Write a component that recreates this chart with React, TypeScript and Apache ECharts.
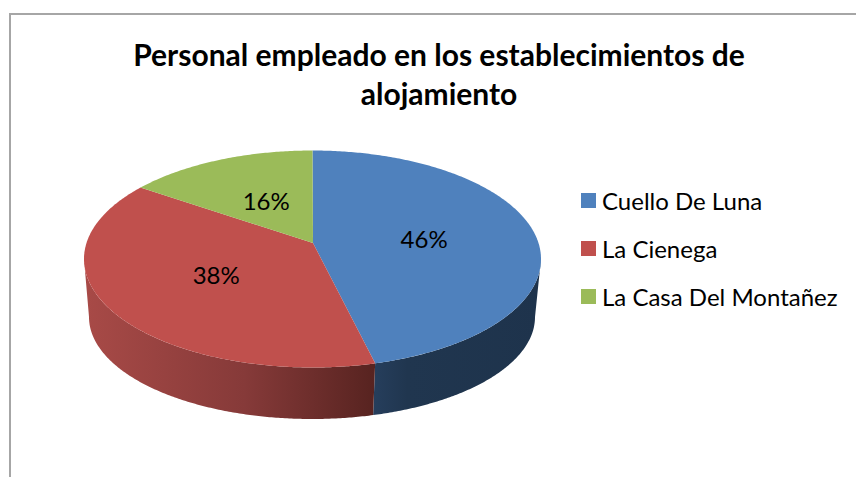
import React, { useEffect, useRef } from "react";
import * as echarts from "echarts";

const categories = ["Cuello De Luna", "La Cienega", "La Casa Del Montañez"];
const percentValues = [46, 38, 16];
const topColors = ["#4f81bd", "#c0504d", "#9bbb59"];
const titleText = "Personal empleado en los establecimientos de\nalojamiento";

const FONT = "Lato";
const TOP = { cx: 312.5, cy: 259, rx: 228.5, ry: 108.5 };
const BOTTOM = { cx: 312, cy: 317, rx: 223, ry: 102 };
const APEX = { x: 313, y: 243 };
const PERSP_A = 0.831;
const PERSP_B = -0.0102;
const labelFraction = [0.51, 0.47, 0.5];
const labelShiftY = [4, 2, -1];

// Perspective warp of a pie angle (radians, clockwise from twelve o'clock).
const warp = (t: number) => {
  const h = t / 2;
  return 2 * Math.atan2(PERSP_A * Math.sin(h), Math.cos(h) + PERSP_B * Math.sin(h));
};
const onEllipse = (e: typeof TOP, a: number) => [e.cx + e.rx * Math.sin(a), e.cy - e.ry * Math.cos(a)];
const arcPoints = (e: typeof TOP, a0: number, a1: number) => {
  const n = Math.max(2, Math.ceil(Math.abs(a1 - a0) / 0.01));
  const pts: number[][] = [];
  for (let i = 0; i <= n; i++) pts.push(onEllipse(e, a0 + ((a1 - a0) * i) / n));
  return pts;
};

const sideFill: Record<number, any> = {
  0: { x0: 374, x1: 541, stops: [[0, "#263e5c"], [0.2, "#20364f"], [1, "#1e334c"]] },
  1: { x0: 85, x1: 375, stops: [[0, "#a84a47"], [0.55, "#863a39"], [1, "#572320"]] },
};

function App() {
  const ref = useRef<HTMLDivElement>(null);
  useEffect(() => {
    document.body.style.margin = "0";
    const chart = echarts.init(ref.current!, undefined, { renderer: "svg" });
    const total = percentValues.reduce((a, b) => a + b, 0);
    let acc = 0;
    const ranges = percentValues.map((v) => {
      const s = (acc / total) * Math.PI * 2;
      acc += v;
      return [s, (acc / total) * Math.PI * 2];
    });

    const series = categories.map((name, idx) => ({
      type: "custom",
      name,
      coordinateSystem: "none",
      silent: true,
      z: 2,
      itemStyle: { color: topColors[idx] },
      data: [[percentValues[idx]]],
      renderItem: (_p: any, api: any) => {
        const value = api.value(0);
        const a0 = warp(ranges[idx][0]);
        const a1 = warp(ranges[idx][1]);
        const children: any[] = [];
        const s0 = Math.max(a0, Math.PI / 2);
        const s1 = Math.min(a1, (Math.PI * 3) / 2);
        if (s1 > s0) {
          const f = sideFill[idx];
          const pts = [...arcPoints(TOP, s0, s1), ...arcPoints(BOTTOM, s1, s0)];
          const xs = pts.map((p) => p[0]);
          const minX = Math.min(...xs);
          const maxX = Math.max(...xs);
          children.push({
            type: "polygon",
            shape: { points: pts },
            style: {
              fill: new echarts.graphic.LinearGradient(
                (f.x0 - minX) / (maxX - minX), 0, (f.x1 - minX) / (maxX - minX), 0,
                f.stops.map(([offset, color]: any) => ({ offset, color })),
              ),
            },
          });
        }
        children.push({
          type: "polygon",
          shape: { points: [[APEX.x, APEX.y], ...arcPoints(TOP, a0, a1)] },
          style: { fill: topColors[idx] },
        });
        const mid = warp((ranges[idx][0] + ranges[idx][1]) / 2);
        const edge = onEllipse(TOP, mid);
        children.push({
          type: "text",
          z2: 10,
          style: {
            x: APEX.x + (edge[0] - APEX.x) * labelFraction[idx],
            y: APEX.y + (edge[1] - APEX.y) * labelFraction[idx] + labelShiftY[idx],
            text: `${value}%`,
            font: `24px ${FONT}`,
            fill: "#000",
            align: "center",
            verticalAlign: "middle",
          },
        });
        return { type: "group", children };
      },
    }));

    chart.setOption({
      animation: false,
      backgroundColor: "#fff",
      title: {
        text: titleText,
        left: 434,
        top: 29,
        textAlign: "center",
        textStyle: { fontFamily: FONT, fontSize: 30, fontWeight: "bold", color: "#000", lineHeight: 39 },
      },
      legend: {
        orient: "vertical",
        left: 576,
        top: 183,
        icon: "rect",
        itemWidth: 15,
        itemHeight: 15,
        itemGap: 23,
        selectedMode: false,
        data: categories,
        textStyle: { fontFamily: FONT, fontSize: 24, color: "#000", padding: [0, 0, 0, 1], lineHeight: 25 },
      },
      graphic: [
        {
          type: "polyline",
          silent: true,
          shape: { points: [[10, 477], [10, 14], [856, 14]] },
          style: { stroke: "#a6a6a6", lineWidth: 2, fill: "none" },
        },
      ],
      series,
    });
    return () => chart.dispose();
  }, []);
  return <div ref={ref} style={{ width: 856, height: 477 }} />;
}

export default App;
